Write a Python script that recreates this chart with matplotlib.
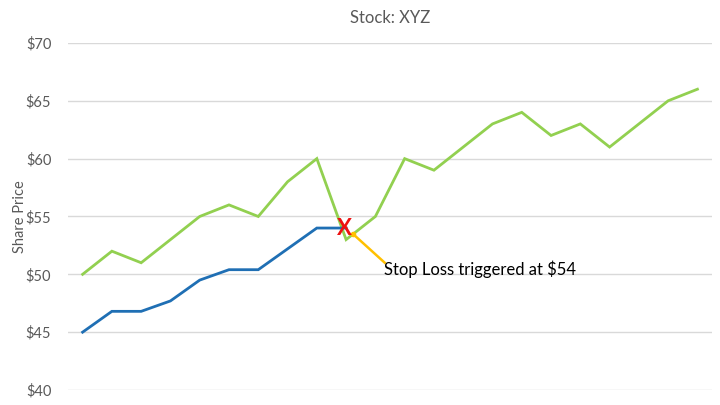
import matplotlib
matplotlib.use("Agg")
import matplotlib.pyplot as plt

plt.rcParams['font.family'] = ['Lato', 'DejaVu Sans']

# share price and trailing stop (10% below running high)
price = [50, 52, 51, 53, 55, 56, 55, 58, 60, 53, 55, 60, 59, 61, 63, 64, 62, 63, 61, 63, 65, 66]
stop = [45, 46.8, 46.8, 47.7, 49.5, 50.4, 50.4, 52.2, 54, 54]
yticks = [40, 45, 50, 55, 60, 65, 70]
ytick_labels = ["$40", "$45", "$50", "$55", "$60", "$65", "$70"]

# trigger point and the callout line end
trigger_x, trigger_y = 9.0, 54
callout_start = (9.23, 53.5)
callout_end = (10.32, 51.0)

fig = plt.figure(figsize=(7.2, 4.05), dpi=100)
ax = fig.add_axes([0.0944, 0.037, 0.8946, 0.857])

ax.plot(range(len(price)), price, color="#92d050", lw=2, solid_joinstyle="miter")
ax.plot(range(len(stop)), stop, color="#1f6fb4", lw=2, solid_joinstyle="miter")

ax.plot([callout_start[0], callout_end[0]], [callout_start[1], callout_end[1]],
        color="#ffc000", lw=1.8)
ax.plot(*callout_start, marker="o", ms=3, color="#ffc000")
ax.text(trigger_x - 0.05, trigger_y - 0.05, "X", color="#ee1111", fontsize=16,
        fontweight="bold", ha="center", va="center")
ax.text(callout_end[0] - 0.03, callout_end[1] - 0.55, "Stop Loss triggered at $54",
        fontsize=12, color="black", ha="left", va="center")

ax.set_xlim(-0.5, len(price) - 0.5)
ax.set_ylim(40, 70)
ax.set_yticks(yticks)
ax.set_yticklabels(ytick_labels)
ax.set_xticks([])
ax.grid(axis="y", color="#d9d9d9", lw=1)
ax.set_axisbelow(True)
for s in ax.spines.values():
    s.set_visible(False)
ax.tick_params(axis="y", length=0, pad=12, labelsize=10.5, labelcolor="#595959")

ax.set_ylabel("Share Price", fontsize=10.5, color="#595959")
ax.yaxis.set_label_coords(-0.064, 0.5)
ax.set_title("Stock: XYZ", fontsize=12, color="#595959", pad=14)

fig.savefig("out.png", dpi=100)
